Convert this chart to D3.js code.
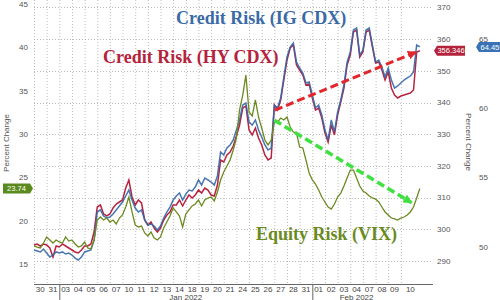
<!DOCTYPE html>
<html>
<head>
<meta charset="utf-8">
<script src="https://cdnjs.cloudflare.com/ajax/libs/d3/7.8.5/d3.min.js"></script>
<style>
  body { margin: 0; background: #fff; }
  svg { display: block; font-family: "Liberation Sans", Arial, sans-serif; }
</style>
</head>
<body>
<svg id="chart" width="500" height="300"></svg>
<script>
// trading days on the x axis (Dec 30 2021 -> Feb 10 2022)
var dayLabels = ["30", "31", "03", "04", "05", "06", "07", "10", "11", "12", "13", "14", "18", "19",
  "20", "21", "24", "25", "26", "27", "28", "31", "01", "02", "03", "04", "07", "08", "09", "10"];
var monthNames = ["Jan 2022", "Feb 2022"];
var monthStart = [2, 22];

// intraday samples, one every quarter of a trading day
var stepDays = 0.25;

var vixValues = [17.11, 16.99, 16.88, 17.45, 18.15, 17.80, 17.45, 17.80, 17.57, 17.45,
  18.15, 17.68, 17.80, 17.34, 16.99, 17.11, 17.57, 16.88, 16.76, 17.80,
  20.10, 20.45, 20.10, 20.33, 19.87, 20.10, 19.64, 20.33, 20.68, 21.60,
  22.75, 21.03, 19.53, 19.30, 19.41, 18.61, 18.26, 18.72, 18.03, 17.80,
  18.15, 19.18, 19.87, 20.56, 21.49, 21.03, 20.56, 19.30, 20.79, 21.26,
  21.72, 21.95, 22.41, 21.72, 22.41, 22.64, 22.75, 22.29, 23.33, 24.71,
  25.63, 26.32, 27.01, 28.17, 29.55, 32.78, 34.50, 36.80, 32.55, 32.09,
  33.93, 31.97, 30.70, 29.32, 28.75, 29.32, 31.39, 31.39, 31.85, 31.62,
  31.97, 30.81, 30.24, 30.12, 28.51, 28.40, 27.01, 25.52, 24.71, 24.25,
  23.56, 22.75, 22.18, 21.60, 21.37, 21.95, 22.75, 23.21, 24.02, 24.94,
  25.86, 25.86, 24.94, 24.02, 23.44, 23.21, 22.87, 22.64, 22.52, 22.18,
  21.60, 21.03, 20.68, 20.33, 20.22, 20.10, 20.33, 20.45, 20.68, 21.03,
  21.60, 22.64, 23.74];

var hyValues = [295.05, 295.36, 294.73, 295.36, 295.05, 294.10, 291.26, 294.73, 294.42, 295.36,
  294.73, 294.10, 293.47, 292.84, 292.52, 293.47, 294.73, 294.73, 295.36, 299.15,
  307.03, 307.67, 304.83, 304.20, 304.83, 306.72, 307.98, 308.61, 309.24, 313.03,
  315.55, 310.19, 307.67, 309.24, 308.30, 302.93, 301.36, 302.30, 300.41, 299.15,
  300.41, 302.93, 304.51, 305.46, 307.67, 307.67, 309.24, 307.35, 309.24, 310.82,
  309.87, 310.82, 312.40, 311.45, 313.03, 312.40, 310.82, 310.50, 313.97, 321.86,
  321.23, 323.44, 324.38, 326.28, 329.43, 332.90, 338.26, 338.90, 331.32, 329.75,
  331.96, 328.80, 326.59, 323.44, 321.86, 322.49, 339.21, 337.63, 340.79, 347.10,
  353.41, 357.19, 358.14, 351.83, 350.25, 348.68, 345.52, 345.84, 341.42, 337.63,
  338.26, 335.11, 330.38, 327.54, 332.90, 329.75, 336.06, 340.16, 344.57, 351.83,
  354.98, 362.24, 362.87, 354.35, 355.93, 362.24, 362.87, 357.51, 352.46, 352.78,
  350.25, 347.10, 349.62, 344.57, 342.37, 341.42, 342.05, 342.37, 342.68, 343.00,
  343.94, 355.93, 356.346];

var igValues = [49.76, 49.69, 49.62, 49.83, 49.54, 49.25, 49.40, 49.62, 49.54, 49.62,
  49.47, 49.54, 49.40, 49.18, 49.04, 49.25, 49.62, 49.69, 49.76, 50.48,
  52.51, 52.66, 52.22, 52.08, 52.15, 52.37, 52.66, 52.94, 53.23, 53.67,
  54.10, 53.38, 52.80, 52.51, 52.66, 51.94, 51.57, 51.64, 51.50, 51.21,
  51.50, 52.08, 52.51, 52.87, 53.38, 53.67, 53.89, 53.38, 53.81, 54.10,
  54.03, 54.32, 54.83, 54.46, 54.97, 54.83, 54.68, 54.46, 55.12, 56.85,
  56.64, 57.14, 57.36, 57.72, 58.44, 59.17, 60.25, 60.40, 59.02, 58.80,
  59.17, 58.44, 57.94, 57.36, 57.00, 57.14, 60.25, 60.04, 60.76, 62.28,
  63.73, 64.45, 64.74, 63.36, 62.93, 62.57, 61.85, 61.92, 60.98, 60.04,
  60.25, 59.53, 58.44, 57.72, 59.17, 58.30, 59.75, 60.62, 61.70, 63.36,
  64.09, 65.68, 65.83, 63.87, 64.23, 65.68, 65.83, 64.59, 63.36, 63.51,
  63.00, 62.28, 62.93, 62.06, 61.48, 61.63, 61.85, 62.06, 62.21, 62.35,
  62.64, 64.59, 64.459];

var vixTicks = [15, 20, 25, 30, 35, 40, 45];
var hyTicks = [290, 300, 310, 320, 330, 340, 350, 360, 370];
var igTicks = [50, 55, 60, 65];

// trend arrows drawn by the author: [day, value]
var hyTrend = [[19.05, 337.6], [30.2, 355.9]];
var vixTrend = [[19.0, 31.6], [29.85, 22.1]];

var svg, x, yVix, yHy, yIg;
var plotBottom = 284;

document.addEventListener("DOMContentLoaded", () => {
  svg = d3.select("#chart");
  drawChart();
});

function drawChart() {
  x = d3.scaleLinear().domain([0, 31.54]).range([34, 433]);
  yVix = d3.scaleLinear().domain([15, 45]).range([264.3, 3.9]);
  yHy = d3.scaleLinear().domain([290, 370]).range([261, 7.4]);
  yIg = d3.scaleLinear().domain([50, 65]).range([246.7, 39.4]);

  var lastT = (hyValues.length - 1) * stepDays;

  // grid
  var grid = svg.append("g")
    .attr("stroke", "#bdbdbd")
    .attr("stroke-dasharray", "1,2");

  grid.selectAll(".vgrid")
    .data(d3.range(dayLabels.length))
    .join("line")
    .attr("class", "vgrid")
    .attr("x1", d => x(d) + 0.5)
    .attr("x2", d => x(d) + 0.5)
    .attr("y1", 0)
    .attr("y2", plotBottom);

  grid.selectAll(".hgrid")
    .data(hyTicks)
    .join("line")
    .attr("class", "hgrid")
    .attr("x1", x.range()[0])
    .attr("x2", x.range()[1])
    .attr("y1", d => Math.round(yHy(d)) + 0.5)
    .attr("y2", d => Math.round(yHy(d)) + 0.5);

  // x axis
  svg.append("line")
    .attr("x1", x.range()[0])
    .attr("x2", x.range()[1])
    .attr("y1", plotBottom + 0.5)
    .attr("y2", plotBottom + 0.5)
    .attr("stroke", "#666");

  svg.selectAll(".monthsep")
    .data(monthStart)
    .join("line")
    .attr("class", "monthsep")
    .attr("x1", d => x(d) + 0.5)
    .attr("x2", d => x(d) + 0.5)
    .attr("y1", plotBottom)
    .attr("y2", 300)
    .attr("stroke", "#666");

  svg.append("g")
    .attr("font-size", "8px")
    .attr("fill", "#444")
    .attr("text-anchor", "middle")
    .selectAll("text")
    .data(dayLabels)
    .join("text")
    .attr("x", (d, i) => x((i + (i == dayLabels.length - 1 ? lastT : i + 1)) / 2))
    .attr("y", 292)
    .text(d => d);

  svg.append("g")
    .attr("font-size", "8px")
    .attr("fill", "#444")
    .attr("text-anchor", "middle")
    .selectAll("text")
    .data(monthNames)
    .join("text")
    .attr("x", (d, i) => x((monthStart[i] + (i + 1 < monthStart.length ? monthStart[i + 1] : dayLabels.length - 1)) / 2))
    .attr("y", 300)
    .text(d => d);

  // y axes
  svg.append("g")
    .attr("font-size", "8px")
    .attr("fill", "#555")
    .attr("text-anchor", "end")
    .selectAll("text")
    .data(vixTicks)
    .join("text")
    .attr("x", 28)
    .attr("y", d => yVix(d))
    .attr("dy", "0.35em")
    .text(d => d);

  svg.append("g")
    .attr("font-size", "8px")
    .attr("fill", "#555")
    .selectAll("text")
    .data(hyTicks)
    .join("text")
    .attr("x", 437)
    .attr("y", d => yHy(d))
    .attr("dy", "0.35em")
    .text(d => d);

  svg.append("g")
    .attr("font-size", "8px")
    .attr("fill", "#555")
    .selectAll("text")
    .data(igTicks)
    .join("text")
    .attr("x", 479)
    .attr("y", d => yIg(d))
    .attr("dy", "0.35em")
    .text(d => d);

  svg.append("text")
    .attr("transform", "translate(9,143) rotate(-90)")
    .attr("text-anchor", "middle")
    .attr("font-size", "8px")
    .attr("fill", "#555")
    .text("Percent Change");

  svg.append("text")
    .attr("transform", "translate(466,142) rotate(90)")
    .attr("text-anchor", "middle")
    .attr("font-size", "8px")
    .attr("fill", "#555")
    .text("Percent Change");

  // series
  var line = yScale => d3.line()
    .x((d, i) => x(i * stepDays))
    .y(d => yScale(d));

  svg.append("path")
    .datum(hyValues)
    .attr("d", line(yHy))
    .attr("fill", "none")
    .attr("stroke", "#b8243f")
    .attr("stroke-width", 1.5);

  svg.append("path")
    .datum(igValues)
    .attr("d", line(yIg))
    .attr("fill", "none")
    .attr("stroke", "#3567a8")
    .attr("stroke-opacity", 0.9)
    .attr("stroke-width", 1.5);

  svg.append("path")
    .datum(vixValues)
    .attr("d", line(yVix))
    .attr("fill", "none")
    .attr("stroke", "#6b8a1f")
    .attr("stroke-width", 1.3);

  // trend arrows
  var defs = svg.append("defs");
  function marker(id, color) {
    defs.append("marker")
      .attr("id", id)
      .attr("viewBox", "0 0 10 10")
      .attr("refX", 9)
      .attr("refY", 5)
      .attr("markerWidth", 9)
      .attr("markerHeight", 9)
      .attr("markerUnits", "userSpaceOnUse")
      .attr("orient", "auto")
      .append("path")
      .attr("d", "M0,0L10,5L0,10z")
      .attr("fill", color);
  }
  marker("arrRed", "#e3262b");
  marker("arrGreen", "#3fe03f");

  svg.append("path")
    .datum(hyTrend)
    .attr("d", d3.line().x(d => x(d[0])).y(d => yHy(d[1])))
    .attr("stroke", "#e3262b")
    .attr("stroke-width", 3)
    .attr("stroke-dasharray", "8,4")
    .attr("fill", "none")
    .attr("marker-end", "url(#arrRed)");

  svg.append("path")
    .datum(vixTrend)
    .attr("d", d3.line().x(d => x(d[0])).y(d => yVix(d[1])))
    .attr("stroke", "#3fe03f")
    .attr("stroke-width", 3.5)
    .attr("stroke-dasharray", "8,4")
    .attr("fill", "none")
    .attr("marker-end", "url(#arrGreen)");

  // series titles
  var titles = svg.append("g")
    .attr("font-family", "'Liberation Serif', 'Times New Roman', serif")
    .attr("font-weight", "bold")
    .attr("font-size", "18px");
  titles.append("text").attr("x", 176).attr("y", 24).attr("fill", "#3a6aa6").text("Credit Risk (IG CDX)");
  titles.append("text").attr("x", 103).attr("y", 63).attr("fill", "#b5223c").text("Credit Risk (HY CDX)");
  titles.append("text").attr("x", 256).attr("y", 240).attr("fill", "#6a8a22").text("Equity Risk (VIX)");

  // last value tags
  function tag(xTip, y, w, dir, color, label) {
    var h = 10;
    var g = svg.append("g");
    var x0 = dir > 0 ? xTip - 3 - w : xTip + 3;
    var pts = dir > 0
      ? [[x0, y - h / 2], [xTip - 3, y - h / 2], [xTip, y], [xTip - 3, y + h / 2], [x0, y + h / 2]]
      : [[xTip, y], [x0, y - h / 2], [x0 + w, y - h / 2], [x0 + w, y + h / 2], [x0, y + h / 2]];
    g.append("path")
      .attr("d", "M" + pts.join("L") + "Z")
      .attr("fill", color);
    g.append("text")
      .attr("x", x0 + w / 2)
      .attr("y", y)
      .attr("dy", "0.35em")
      .attr("text-anchor", "middle")
      .attr("font-size", "7.5px")
      .attr("fill", "#fff")
      .text(label);
  }
  tag(33, yVix(vixValues[vixValues.length - 1]), 27, 1, "#5b8a1c", String(vixValues[vixValues.length - 1]));
  tag(434, yHy(hyValues[hyValues.length - 1]), 28, -1, "#b5223c", String(hyValues[hyValues.length - 1]));
  tag(476, yIg(igValues[igValues.length - 1]), 26, -1, "#3a72b5", String(igValues[igValues.length - 1]));
}
</script>
</body>
</html>
